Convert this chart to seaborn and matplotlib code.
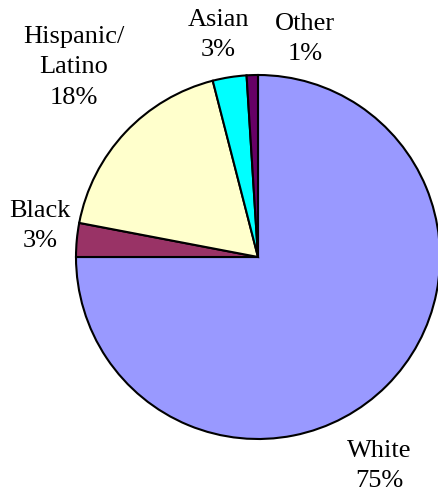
import matplotlib
matplotlib.use("Agg")
import matplotlib.pyplot as plt
import seaborn as sns

# Population share by race / ethnicity
groups = ["White", "Black", "Hispanic/\nLatino", "Asian", "Other"]
shares = [75, 3, 18, 3, 1]
colors = ["#9999FF", "#993366", "#FFFFCC", "#00FFFF", "#660066"]

sns.set_theme(style="white")
plt.rcParams["font.family"] = ["Liberation Serif", "DejaVu Serif"]

W, H = 438, 493
fig = plt.figure(figsize=(W / 100, H / 100), dpi=100)
fig.patch.set_facecolor("white")

cx, cy, r = 258, 257, 182
ax = fig.add_axes([(cx - r) / W, (H - cy - r) / H, 2 * r / W, 2 * r / H])
ax.set_facecolor("none")

palette = sns.color_palette(colors)
wedges, _ = ax.pie(
    shares,
    colors=palette,
    startangle=90,
    counterclock=False,
    wedgeprops=dict(edgecolor="black", linewidth=1.5),
)
ax.set_xlim(-1, 1)
ax.set_ylim(-1, 1)
ax.axis("off")

# label anchors (centre of each text block), in figure pixels
label_px = [(379, 466), (40, 226), (74, 67), (218, 35), (305, 39)]
for name, val, (px, py) in zip(groups, shares, label_px):
    ax.text((px - cx) / r, (cy - py) / r, f"{name}\n{val}%",
            ha="center", va="center", fontsize=19, linespacing=1.5,
            color="black", clip_on=False)

fig.savefig("out.png", dpi=100, facecolor="white")
